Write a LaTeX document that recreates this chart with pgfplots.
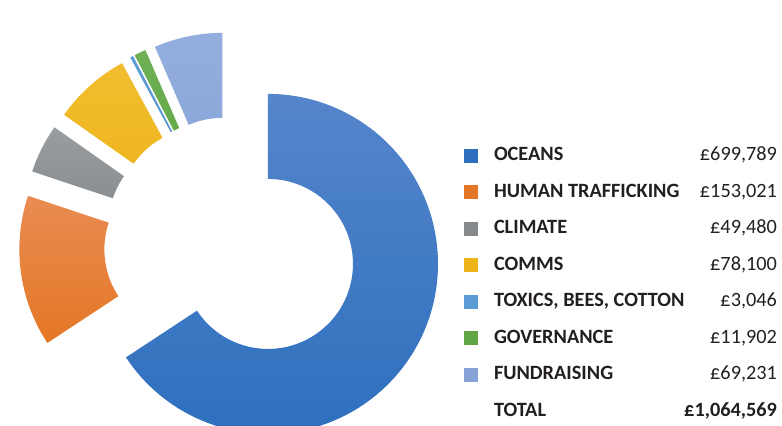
\documentclass[border=0pt]{standalone}
\usepackage{pgfplots}
\pgfplotsset{compat=1.18}
\usepackage{pgfplotstable}
\usepackage{fontspec}
\setmainfont{Carlito}
\definecolor{c1t}{HTML}{5585CB}\definecolor{c1b}{HTML}{2E70BE}
\definecolor{c2t}{HTML}{E98B52}\definecolor{c2b}{HTML}{E47725}
\definecolor{c3t}{HTML}{9A9D9F}\definecolor{c3b}{HTML}{85898B}
\definecolor{c4t}{HTML}{F2BD2E}\definecolor{c4b}{HTML}{EDB41B}
\definecolor{c5t}{HTML}{5B9BD5}\definecolor{c5b}{HTML}{4F8FCC}
\definecolor{c6t}{HTML}{6DB055}\definecolor{c6b}{HTML}{62A545}
\definecolor{c7t}{HTML}{93AEDE}\definecolor{c7b}{HTML}{86A2D6}
\definecolor{txt}{HTML}{231F20}
\pgfplotstableread[col sep=comma]{
name,value
Oceans,699789
Human trafficking,153021
Climate,49480
Comms,78100
Toxics bees cotton,3046
Governance,11902
Fundraising,69231
}\budget
\begin{document}
\begin{tikzpicture}
\begin{axis}[name=ax,
  scale only axis, width=391pt, height=213pt,
  xmin=0, xmax=782, ymin=0, ymax=426, hide axis, clip=true,
  legend image code/.code={\path[draw=none,#1] (0pt,-3.5pt) rectangle (7pt,3.5pt);},
  legend cell align=left,
  legend style={at={(axis cs:464,279)}, anchor=north west, draw=none, fill=none,
    inner sep=0pt, outer sep=0pt, row sep=9.25pt, text=txt,
    font=\fontsize{10.15}{11}\selectfont,
    nodes={inner sep=0pt, text height=7pt, text depth=2pt}},
]
\pgfplotsextra{
  \gdef\cum{0}
  \def\total{1064569}
  \foreach \i/\ct/\cb in {0/c1t/c1b,1/c2t/c2b,2/c3t/c3b,3/c4t/c4b,4/c5t/c5b,5/c6t/c6b,6/c7t/c7b}{
    \pgfplotstablegetelem{\i}{value}\of\budget
    \edef\v{\pgfplotsretval}
    \edef\a{\fpeval{90-360*\cum/\total}}
    \edef\b{\fpeval{90-360*(\cum+\v)/\total}}
    \edef\m{\fpeval{(\a+\b)/2}}
    \edef\cx{\fpeval{231+42*cosd(\m)}}
    \edef\cy{\fpeval{182+42*sind(\m)}}
    \edef\bb{\fpeval{\b+180}}
    \shade[top color=\ct, bottom color=\cb] (axis cs:\cx,\cy) ++(\a:85pt)
      arc[start angle=\a, end angle=\b, radius=85pt] -- ++(\bb:42.5pt)
      arc[start angle=\b, end angle=\a, radius=42.5pt] -- cycle;
    \xdef\cum{\fpeval{\cum+\v}}
  }
}
\addlegendimage{fill=c1b}\addlegendentry{\hspace*{8pt}\makebox[141.5pt]{\textbf{OCEANS}\hfill £699,789}}
\addlegendimage{fill=c2b}\addlegendentry{\hspace*{8pt}\makebox[141.5pt]{\textbf{HUMAN TRAFFICKING}\hfill £153,021}}
\addlegendimage{fill=c3b}\addlegendentry{\hspace*{8pt}\makebox[141.5pt]{\textbf{CLIMATE}\hfill £49,480}}
\addlegendimage{fill=c4b}\addlegendentry{\hspace*{8pt}\makebox[141.5pt]{\textbf{COMMS}\hfill £78,100}}
\addlegendimage{fill=c5t}\addlegendentry{\hspace*{8pt}\makebox[141.5pt]{\textbf{TOXICS, BEES, COTTON}\hfill £3,046}}
\addlegendimage{fill=c6b}\addlegendentry{\hspace*{8pt}\makebox[141.5pt]{\textbf{GOVERNANCE}\hfill £11,902}}
\addlegendimage{fill=c7b}\addlegendentry{\hspace*{8pt}\makebox[141.5pt]{\textbf{FUNDRAISING}\hfill £69,231}}
\addlegendimage{fill=none}\addlegendentry{\hspace*{8pt}\makebox[141.5pt]{\textbf{TOTAL}\hfill \textbf{£1,064,569}}}
\end{axis}
\pgfresetboundingbox
\useasboundingbox (ax.south west) rectangle (ax.north east);
\end{tikzpicture}
\end{document}
